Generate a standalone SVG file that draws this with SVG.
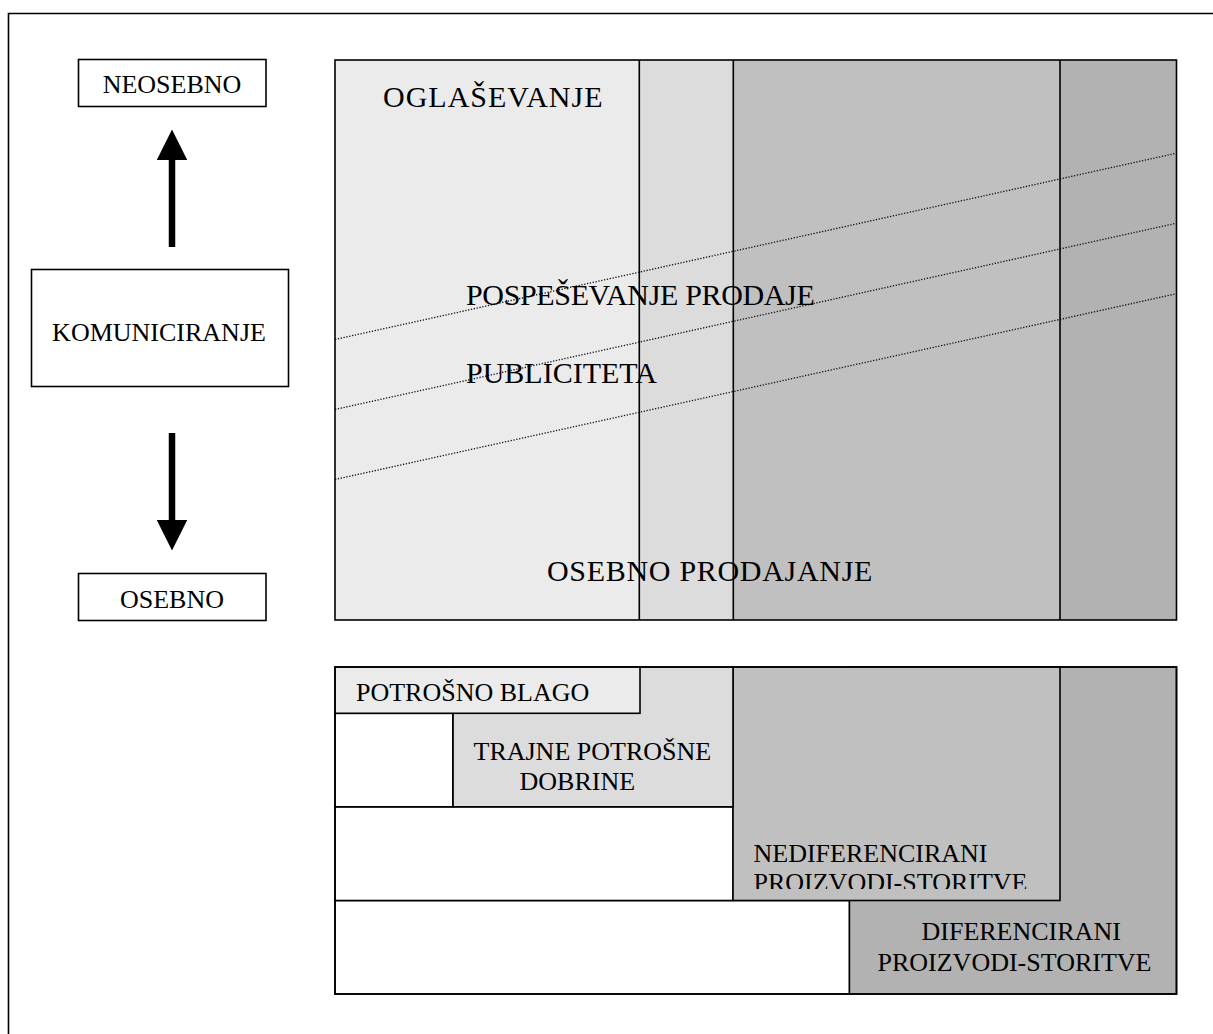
<svg xmlns="http://www.w3.org/2000/svg" width="1213" height="1034" viewBox="0 0 1213 1034">
<style>
.t{font-family:"Liberation Serif","Times New Roman",serif;fill:#000}
.s{font-size:26px}
.l{font-size:30px}
.bx{fill:#fff;stroke:#000;stroke-width:1.6}
.ln{stroke:#000;stroke-width:1.6;fill:none}
.dot{stroke:#111;stroke-width:1.3;stroke-dasharray:1.3 1.6;fill:none}
.c1{fill:#ebebeb}.c2{fill:#dcdcdc}.c3{fill:#c0c0c0}.c4{fill:#b2b2b2}
.arr{stroke:#000;stroke-width:6.5;fill:none}
</style>
<defs>
<marker id="ah" viewBox="0 0 10 10" refX="0" refY="5" markerWidth="4.7" markerHeight="4.7" markerUnits="strokeWidth" orient="auto"><path d="M0,0 L10,5 L0,10 Z" fill="#000"/></marker>
<clipPath id="ndclip"><rect x="733" y="667" width="327" height="222"/></clipPath>
</defs>
<rect width="1213" height="1034" fill="#fff"/>
<g id="frame"><path class="ln" d="M8.5,1034 V13.5 H1213" stroke-width="2"/></g>

<g id="neosebno"><rect class="bx" x="78.5" y="59.5" width="187.5" height="47"/><text class="t s" x="172" y="93" text-anchor="middle">NEOSEBNO</text></g>
<g id="komuniciranje"><rect class="bx" x="31.5" y="269.5" width="257" height="117"/><text class="t s" x="159" y="341" text-anchor="middle">KOMUNICIRANJE</text></g>
<g id="osebno"><rect class="bx" x="78.5" y="573.5" width="187.5" height="47"/><text class="t s" x="172" y="608" text-anchor="middle">OSEBNO</text></g>

<g id="connectors">
<line class="arr" x1="172" y1="247" x2="172" y2="160" marker-end="url(#ah)"/>
<line class="arr" x1="172" y1="433" x2="172" y2="520" marker-end="url(#ah)"/>
</g>

<g id="top-chart">
<rect class="c1" x="335" y="60" width="304" height="560"/>
<rect class="c2" x="639" y="60" width="94" height="560"/>
<rect class="c3" x="733" y="60" width="327" height="560"/>
<rect class="c4" x="1060" y="60" width="116.5" height="560"/>
<line class="dot" x1="335" y1="339.5" x2="1175" y2="153.5"/>
<line class="dot" x1="335" y1="409.5" x2="1175" y2="223.5"/>
<line class="dot" x1="335" y1="479.5" x2="1175" y2="294"/>
<g id="oglasevanje"><text class="t l" x="383" y="107" letter-spacing="1">OGLAŠEVANJE</text></g>
<g id="pospesevanje"><text class="t l" x="466" y="305" letter-spacing="-0.35">POSPEŠEVANJE PRODAJE</text></g>
<g id="publiciteta"><text class="t l" x="466" y="383">PUBLICITETA</text></g>
<g id="osebno-prodajanje"><text class="t l" x="547" y="581" letter-spacing="0.7">OSEBNO PRODAJANJE</text></g>
<line class="ln" x1="639.3" y1="60" x2="639.3" y2="620"/>
<line class="ln" x1="733.3" y1="60" x2="733.3" y2="620"/>
<line class="ln" x1="1060" y1="60" x2="1060" y2="620"/>
<rect class="ln" x="335" y="60" width="841.5" height="560"/>
</g>

<g id="bottom-chart">
<g id="diferencirani"><rect class="c4" x="849.3" y="667" width="327.2" height="327" stroke="#000" stroke-width="1.6"/>
<text class="t s" x="921.5" y="940">DIFERENCIRANI</text><text class="t s" x="877.5" y="971">PROIZVODI-STORITVE</text></g>
<g id="white-2"><rect class="bx" x="335" y="900.5" width="514.3" height="93.5"/></g>
<g id="white-1"><rect class="bx" x="335" y="806.8" width="398" height="93.7"/></g>
<g id="nediferencirani"><rect class="c3" x="733" y="667" width="327" height="233.5" stroke="#000" stroke-width="1.6"/>
<g clip-path="url(#ndclip)"><text class="t s" x="753.5" y="862">NEDIFERENCIRANI</text><text class="t s" x="753.5" y="891">PROIZVODI-STORITVE</text></g></g>
<g id="trajne"><rect class="c2" x="452.8" y="667" width="280.2" height="139.8" stroke="#000" stroke-width="1.6"/>
<text class="t s" x="473.5" y="760">TRAJNE POTROŠNE</text><text class="t s" x="519.5" y="789.5">DOBRINE</text></g>
<g id="white-0"><rect class="bx" x="335" y="713.3" width="117.8" height="93.5"/></g>
<g id="potrosno"><rect class="c1" x="335" y="667" width="305" height="46.3" stroke="#000" stroke-width="1.6"/>
<text class="t s" x="356" y="701">POTROŠNO BLAGO</text></g>
<rect class="ln" x="335" y="667" width="841.5" height="327"/>
</g>
</svg>
